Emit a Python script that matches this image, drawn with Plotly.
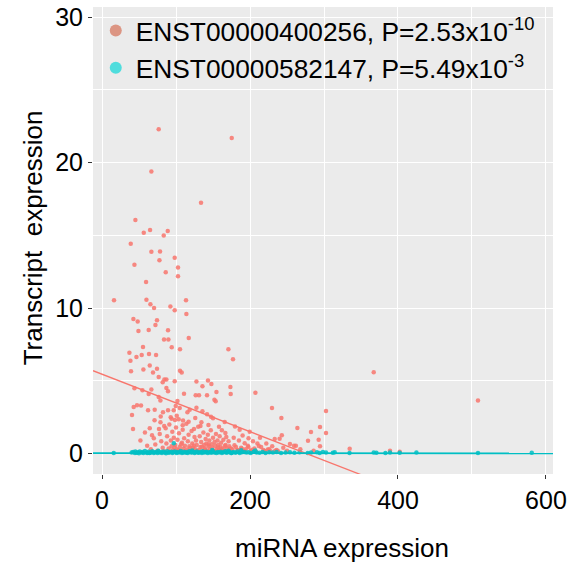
import plotly.graph_objects as go

# ---- data ----
red_x = [76.6, 175.3, 66.7, 133.8, 45.1, 64.9, 56.4, 88.8, 83.4,
         38.8, 66.7, 78.4, 98.2, 77.6, 43.8, 102.7, 86.1, 102.7, 59.5, 16.2, 60, 113.5, 65.4, 70.3, 92.4, 98.2, 114,
         42.4, 48.2, 74.3, 72.2, 49.2, 63.1, 89.2, 117.2, 83.8, 89.7,
         170.8, 177, 173.5, 173.9, 207.3, 229.7, 242.4, 302.7, 264, 282.4, 294.6, 302.7, 233.4, 240, 243, 278.4, 292.8,
         294.6, 254, 259.5, 262, 165.8, 179.7, 186, 199.6, 213.5, 198, 192.8, 210, 166.7, 168,
         55.4, 37, 53.6, 46.5, 63.5, 73, 38.4, 64.5, 55.9, 74.3, 39.2, 94.2, 105.4, 105.4, 107.7, 68.9, 76.6, 84.3, 87,
         82, 98.2, 127.6, 143.2, 135.7, 147.8, 43.8, 54.6, 66.7, 87, 89.2, 63.1, 154.6, 110.8, 126.6, 131.1, 141.9,
         76.6, 78.9, 151.9, 153.6, 47.3, 52.7, 42.8, 101.9, 99.6, 105, 96.9, 89.2, 62.2, 71.2, 40.5, 82.4, 79.3, 115.4,
         118.5, 127.6, 135.7, 147.3, 150, 92.8, 98.6, 103.6, 109.5, 41.9, 64.5, 77, 134.3, 143.8, 124.3, 158.1, 51.9,
         67.6, 367.2, 508.1, 334.7, 389.2, 402.3,
         58, 61, 66, 70, 72, 75, 78, 80, 82, 84, 85, 87, 88, 90, 91, 93, 94, 95, 96, 97, 99, 100, 101, 102, 104, 105,
         106, 108, 109, 110, 111, 112, 114, 115, 116, 117, 118, 120, 121, 122, 123, 125, 126, 127, 128, 130, 131, 132,
         133, 134, 136, 137, 138, 139, 140, 141, 142, 143, 144, 145, 146, 147, 148, 149, 150, 151, 152, 153, 154, 155,
         156, 157, 158, 159, 160, 161, 162, 163, 164, 165, 167, 169, 171, 172, 176, 178, 181, 183, 185, 188, 190, 194,
         197, 201, 204, 206, 215, 218, 222, 226, 230, 236, 245, 250, 268, 286,
         92, 98, 103, 107, 113, 119, 124, 129, 135, 139, 144, 152, 157, 161, 166, 170, 174, 179, 184, 189, 193, 198,
         203, 208, 212, 220, 224, 228, 234, 238, 71, 79, 86, 94, 101, 109, 117, 126, 133, 142]
red_y = [22.3, 21.7, 19.4, 17.25, 16.06, 15.37, 15.19, 15.3, 15.0,
         14.43, 13.88, 13.9, 13.47, 13.29, 12.99, 12.8, 12.46, 12.19, 11.8, 10.54, 10.58, 10.54, 10.26, 10.01, 10.12,
         9.85, 9.6, 9.26, 9.09, 9.16, 8.85, 8.43, 8.5, 8.48, 7.95, 7.84, 7.84,
         7.17, 6.48, 4.58, 4.1, 4.19, 3.14, 2.45, 2.93, 1.77, 1.49, 1.83, 1.42, 1.01, 1.03, 1.26, 0.89, 0.96,
         0.5, 0.67, 0.55, 0.55, 2.18, 1.86, 1.65, 1.51, 1.1, 1.05, 0.71, 0.69, 1.42, 1.15,
         7.33, 6.94, 6.78, 6.65, 6.85, 6.78, 6.39, 6.05, 5.79, 5.84, 5.66, 7.31, 7.17, 5.7, 5.57, 5.57, 5.27, 5.09, 5.09,
         4.9, 4.97, 4.95, 5.02, 4.63, 4.79, 4.49, 4.35, 4.4, 4.51, 4.28, 4.1, 4.24, 4.12, 4.01, 4.01, 4.01,
         3.9, 3.66, 3.71, 3.6, 3.32, 3.3, 3.21, 3.62, 3.28, 3.14, 2.98, 2.98, 2.98, 3.02, 2.66, 2.84, 2.56, 2.84,
         3.02, 3.16, 2.91, 2.54, 2.43, 2.5, 2.31, 2.36, 2.27, 1.7, 1.74, 1.7, 2.15, 1.97, 1.7, 1.84, 0.91,
         1.26, 5.59, 3.66, 0.34, 0.2, 0.13,
         1.45, 0.55, 0.3, 1.05, 0.62, 0.2, 1.35, 0.85, 0.4, 1.9, 0.15, 0.7, 1.2, 0.35, 2.0, 0.9, 0.5, 1.5, 0.25, 1.1,
         0.6, 1.8, 0.3, 0.95, 1.4, 0.45, 0.18, 0.75, 1.65, 0.35, 1.05, 0.55, 2.05, 0.28, 0.85, 1.3, 0.5, 0.2, 1.55,
         0.7, 0.4, 1.15, 0.3, 0.9, 0.6, 1.85, 0.25, 1.2, 0.45, 0.8, 0.15, 1.45, 0.6, 0.35, 1.0, 0.7, 0.22, 1.3, 0.5,
         0.9, 0.3, 1.6, 0.65, 0.4, 1.1, 0.2, 0.8, 0.55, 1.35, 0.3, 0.9, 0.6, 0.25, 1.2, 0.45, 0.75, 1.6, 0.35, 0.95,
         0.2, 0.6, 0.35, 0.85, 0.5, 0.3, 1.1, 0.45, 0.25, 0.9, 0.4, 1.25, 0.3, 0.55, 0.2, 0.85, 0.35, 0.45, 0.25,
         0.7, 0.3, 0.5, 0.25, 0.4, 0.2, 0.3, 0.2,
         0.12, 0.42, 0.22, 0.65, 0.15, 0.38, 0.55, 0.18, 0.48, 0.28, 0.62, 0.16, 0.42, 0.26, 0.52, 0.14, 0.36, 0.58,
         0.21, 0.33, 0.16, 0.46, 0.27, 0.15, 0.52, 0.18, 0.28, 0.14, 0.2, 0.16, 2.3, 2.15, 1.75, 2.4, 2.6, 1.95, 2.2,
         2.45, 1.9, 2.7]

cyan_x = [15.8, 40, 42, 44.5, 45, 47, 48.5, 50, 51, 53.5, 55, 56, 58, 60.5, 61, 63, 65, 66.5, 68, 70, 71, 73.5, 75,
          76, 78, 80.5, 81, 83, 85, 86.5, 88, 90, 91, 93.5, 95, 96, 98, 100.5, 101, 103, 105, 106.5, 108, 110, 111,
          113.5, 115, 116, 118, 120.5, 121, 123, 125, 126.5, 128, 130, 131, 133.5, 135, 136, 138, 140.5, 141, 143,
          145, 146.5, 148, 150, 152, 154.5, 156, 158, 160.5, 162, 164, 166.5, 168, 170, 172, 174.5, 176, 178, 180.5,
          183, 186, 189, 192, 195, 198, 201, 205, 209, 213, 217, 221, 226, 231, 236, 242, 248, 254, 260, 267, 278,
          282.4, 290.5, 294.2, 298.6, 302.7, 312, 314.5, 334.5, 367.2, 370.8, 383, 389.2, 402.3, 424.9, 508.1,
          580.8, 174.8, 64, 97, 122, 149, 171, 188, 207]
cyan_y = [0.05, 0.08, 0.12, 0.04, 0.15, 0.06, 0.1, 0.03, 0.14, 0.07, 0.11, 0.05, 0.18, 0.08, 0.04, 0.13, 0.06,
          0.1, 0.16, 0.05, 0.09, 0.12, 0.04, 0.2, 0.07, 0.11, 0.05, 0.14, 0.08, 0.03, 0.17, 0.06, 0.1, 0.13, 0.05,
          0.09, 0.15, 0.04, 0.12, 0.07, 0.1, 0.18, 0.05, 0.08, 0.13, 0.06, 0.11, 0.04, 0.16, 0.09, 0.07, 0.12, 0.05,
          0.1, 0.14, 0.06, 0.08, 0.11, 0.04, 0.17, 0.07, 0.1, 0.13, 0.05, 0.09, 0.12, 0.06, 0.15, 0.08, 0.04, 0.11,
          0.07, 0.13, 0.05, 0.1, 0.16, 0.06, 0.09, 0.12, 0.04, 0.08, 0.11, 0.06, 0.14, 0.05, 0.09, 0.12, 0.07, 0.1,
          0.05, 0.13, 0.08, 0.06, 0.11, 0.04, 0.09, 0.07, 0.12, 0.05, 0.08, 0.1, 0.06, 0.09, 0.04, 0.07, 0.1,
          0.05, 0.12, 0.08, 0.06, 0.09, 0.05, 0.07, 0.06, 0.05, 0.08, 0.06, 0.07, 0.05, 0.06, 0.04,
          0.05, 0.71, 0.22, 0.25, 0.2, 0.24, 0.21, 0.23, 0.2]

red_intercept, red_slope = 5.46, -0.01974
cyan_intercept, cyan_slope = 0.04, -0.00004
x_range = [-12.2, 609.5]
y_range = [-1.40, 30.7]

red_label = "ENST00000400256, P=2.53x10<sup>-10</sup>"
cyan_label = "ENST00000582147, P=5.49x10<sup>-3</sup>"

RED = "#F8766D"
CYAN = "#00BFC4"

fig = go.Figure()
fig.add_trace(go.Scatter(x=red_x, y=red_y, mode="markers", showlegend=False,
                         marker=dict(color=RED, size=4.5, opacity=0.85, line=dict(width=0))))
fig.add_trace(go.Scatter(x=cyan_x, y=cyan_y, mode="markers", showlegend=False,
                         marker=dict(color=CYAN, size=4.5, opacity=0.85, line=dict(width=0))))
fig.add_trace(go.Scatter(x=x_range, y=[red_intercept + red_slope * v for v in x_range], mode="lines",
                         showlegend=False, line=dict(color=RED, width=1.3)))
fig.add_trace(go.Scatter(x=x_range, y=[cyan_intercept + cyan_slope * v for v in x_range], mode="lines",
                         showlegend=False, line=dict(color=CYAN, width=1.7)))
# legend entries
fig.add_trace(go.Scatter(x=[None], y=[None], mode="markers", name=red_label,
                         marker=dict(color="#DC9583", size=10)))
fig.add_trace(go.Scatter(x=[None], y=[None], mode="markers", name=cyan_label,
                         marker=dict(color="#4FDDDD", size=10)))

font_family = "Liberation Sans, Arial, sans-serif"
axis_common = dict(showgrid=True, gridcolor="white", gridwidth=1.1, zeroline=False, automargin=False,
                   ticks="outside", ticklen=4, tickcolor="#333333", tickwidth=1,
                   tickfont=dict(size=25, color="black", family=font_family), showline=False)

fig.update_layout(
    width=571, height=566,
    margin=dict(l=93, r=18, t=7, b=92, autoexpand=False),
    paper_bgcolor="white", plot_bgcolor="#EBEBEB",
    font=dict(family=font_family, color="black"),
    xaxis=dict(range=x_range, tickvals=[0, 200, 400, 600],
               minor=dict(tickvals=[100, 300, 500], showgrid=True, gridcolor="white", gridwidth=0.5, ticks=""),
               **axis_common),
    yaxis=dict(range=y_range, tickvals=[0, 10, 20, 30],
               minor=dict(tickvals=[5, 15, 25], showgrid=True, gridcolor="white", gridwidth=0.5, ticks=""),
               **axis_common),
    legend=dict(x=0.006, y=1.0, xanchor="left", yanchor="top", bgcolor="rgba(0,0,0,0)",
                font=dict(size=26.3, color="black", family=font_family), itemsizing="constant",
                tracegroupgap=0),
    annotations=[
        dict(text="miRNA expression", xref="paper", yref="paper", x=0.541, y=-0.158,
             xanchor="center", yanchor="middle", showarrow=False,
             font=dict(size=26, color="black", family=font_family)),
        dict(text="Transcript  expression", xref="paper", yref="paper", x=-0.13, y=0.505,
             xanchor="center", yanchor="middle", showarrow=False, textangle=-90,
             font=dict(size=26, color="black", family=font_family)),
    ],
)

fig.write_html("out.html", config={"displayModeBar": False},
               post_script="document.body.style.margin='0px';document.body.style.overflow='hidden';")
